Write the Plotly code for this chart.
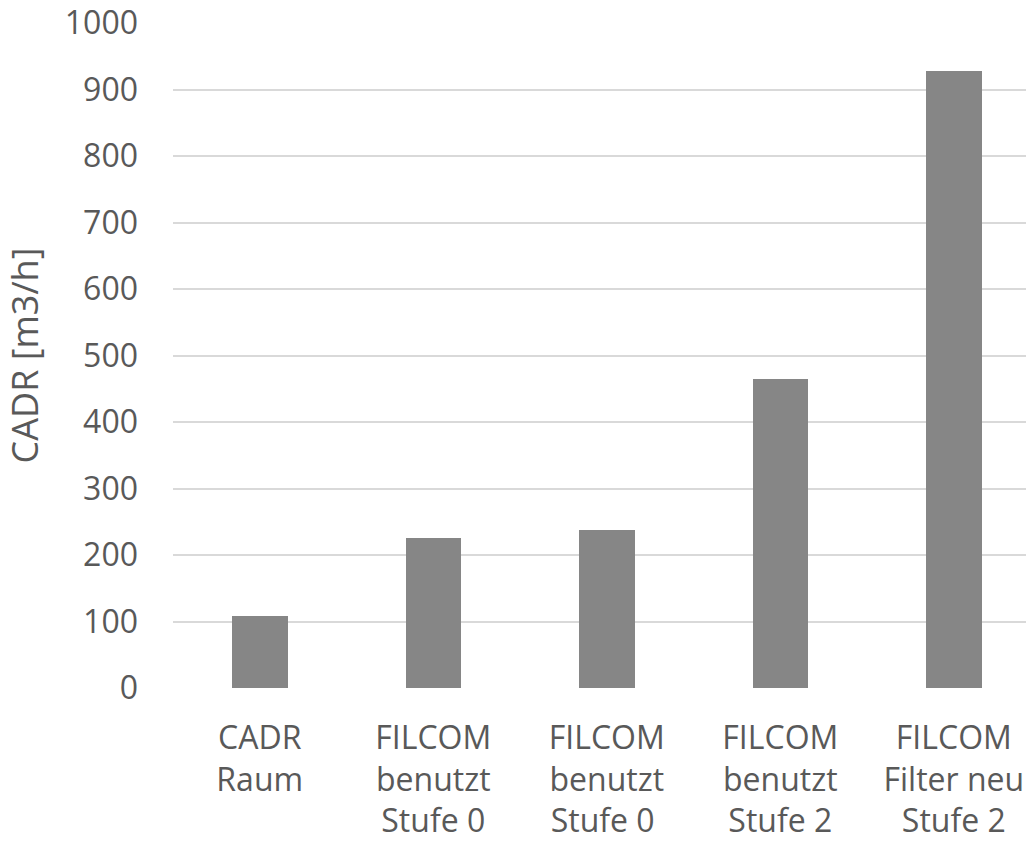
import plotly.graph_objects as go

categories = ["CADR<br>Raum", "FILCOM<br>benutzt<br>Stufe 0", "FILCOM<br>benutzt<br>Stufe 0 ",
              "FILCOM<br>benutzt<br>Stufe 2", "FILCOM<br>Filter neu<br>Stufe 2"]
values = [108, 226, 238, 465, 928]
y_ticks = [0, 100, 200, 300, 400, 500, 600, 700, 800, 900, 1000]

fig = go.Figure()
fig.add_trace(go.Bar(
    x=list(range(len(categories))), y=values,
    width=0.32, marker=dict(color="#868686", line=dict(width=0)),
))

font_col = "#595959"
fig.update_layout(
    width=1026, height=845,
    margin=dict(l=173, r=0, t=23, b=157),
    plot_bgcolor="white", paper_bgcolor="white",
    font=dict(family="Open Sans", size=32, color=font_col),
    showlegend=False,
    bargap=0,
    xaxis=dict(
        tickmode="array", tickvals=list(range(len(categories))), ticktext=categories,
        range=[-0.5, 4.416], showgrid=False, zeroline=False,
        showline=False, ticks="", ticklabelstandoff=28,
        tickfont=dict(size=32, color=font_col),
    ),
    yaxis=dict(
        range=[0, 1000], tickmode="array", tickvals=y_ticks,
        showgrid=True, gridcolor="#d9d9d9", gridwidth=2,
        zeroline=False, showline=False, ticks="",
        ticklabelstandoff=34,
        tickfont=dict(size=32, color=font_col),
        title=dict(text="CADR [m3/h]", font=dict(size=36, color=font_col), standoff=18),
    ),
)

fig.write_html("out.html")
